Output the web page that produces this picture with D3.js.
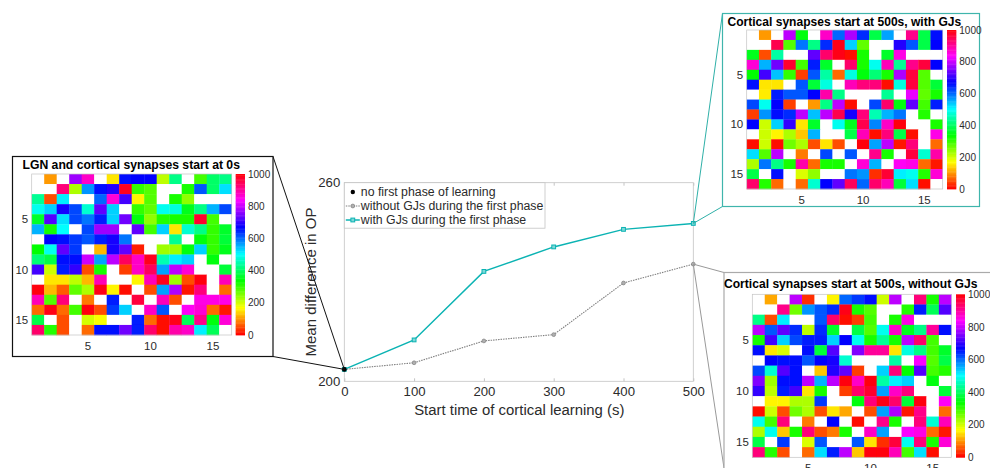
<!DOCTYPE html>
<html>

<head>
    <meta charset="UTF-8">
    <script src="https://d3js.org/d3.v7.min.js"></script>
    <style>
        body {
            margin: 0;
            background-color: white;
        }

        text {
            font-family: 'Liberation Sans', Arial, sans-serif;
            fill: #2b2b2b;
        }
    </style>
</head>

<body>
    <svg id="chart" width="990" height="468">
        <defs>
            <filter id="soft" x="-2%" y="-2%" width="104%" height="104%">
                <feGaussianBlur stdDeviation="0.35"></feGaussianBlur>
            </filter>
        </defs>
    </svg>
    <script>
        // line chart values
        var startTimes = [0, 100, 200, 300, 400, 500];
        var withGJs = [203.6, 212.5, 233.2, 240.6, 245.9, 247.7];
        var withoutGJs = [203.6, 205.6, 212.2, 214.1, 229.7, 235.4];
        var noFirstPhase = [203.6];
        var legendLabels = ["no first phase of learning", "without GJs during the first phase", "with GJs during the first phase"];
        var yTicks = [200, 260];

        var matrixTicks = [5, 10, 15];
        var colorbarTicks = [0, 200, 400, 600, 800, 1000];

        // weight matrices, null is a missing (white) cell
        var _ = null;
        var lgnMatrix = [
            [_, 100, _, 770, 870, _, 150, 660, 670, 670, 210, 420, _, 290, 400, 420],
            [_, _, 920, 220, 570, 660, 690, 980, 300, 280, _, _, 320, 610, 400, 520],
            [430, 50, 510, _, _, 600, 860, 710, 160, 280, _, 320, 240, _, _, _],
            [490, 530, 680, 620, 470, 730, 530, _, 300, 270, 490, 480, 350, 420, 550, 620],
            [360, 720, 520, 620, 590, 650, 530, 740, 340, 240, 310, 320, 320, 970, 290, _],
            [550, 320, 500, _, 620, 770, 770, _, 730, 290, 530, 150, 470, 420, 300, 360],
            [_, 670, 660, 630, 610, 650, 680, 590, _, _, _, 430, _, 340, 300, 370],
            [330, 490, 730, 630, _, 120, 680, 730, 20, _, 230, 230, 340, 530, 300, 350],
            [410, 380, 660, 660, 800, 560, 790, 940, 870, 980, 450, 510, 530, _, 340, _],
            [710, 200, 650, 700, 50, 320, _, 40, 870, 940, 560, 790, 860, _, _, 370],
            [_, 150, 150, 210, 120, 880, _, _, 160, 880, 980, 230, 50, 990, _, 880],
            [990, 120, 60, 270, 220, 985, 160, 10, _, 50, 560, 780, 15, 920, _, 70],
            [880, 280, 920, _, 80, _, 650, _, 960, _, 880, 50, _, 850, 850, 850],
            [70, 985, 70, 290, 990, 50, 630, 530, _, 870, 610, _, 840, 860, 70, 15],
            [380, _, 50, _, 195, 170, _, _, 650, 70, 10, 985, 390, 910, 340, 860],
            [930, 310, 50, _, 70, 660, 660, 740, 650, 930, 10, 890, 870, 510, 390, _]
        ];
        var withGJsMatrix = [
            [_, 100, _, 790, 340, _, 870, 600, 780, 640, 380, 560, _, 910, 380, 660],
            [_, _, 950, 280, 590, 420, 640, 985, 530, 270, _, _, 690, 610, 380, 670],
            [350, 50, 440, _, _, 730, 930, 985, 10, 320, _, 360, 850, _, _, _],
            [860, 550, 740, 970, 290, 650, 360, _, 930, 320, 490, 880, 430, 910, 960, 670],
            [330, 710, 540, 300, 40, 610, 440, 70, 480, 340, 410, 320, 780, 960, 280, _],
            [660, 150, 150, _, 610, 370, 480, _, 880, 920, 920, 10, 480, 960, 280, 370],
            [_, 155, 650, 610, 610, 670, 890, 420, _, _, _, 430, _, 820, 270, 320],
            [620, 490, 670, 40, _, 100, 420, 790, 10, _, 620, 930, 340, 730, 290, 650],
            [40, 570, 660, 640, 790, 540, 790, 950, 680, 920, 450, 550, 590, _, 310, _],
            [670, 200, 530, 700, 150, 360, _, 490, 350, 950, 580, 870, 995, _, _, 320],
            [_, 200, 160, 220, 130, 550, _, _, 380, 880, 10, 920, 380, 10, _, 850],
            [10, 200, 5, 260, 220, 50, 150, 50, _, 995, 560, 790, 15, 920, _, 70],
            [520, 280, 790, _, 80, _, 620, _, 610, _, 910, 320, _, 960, 470, 890],
            [220, 590, 420, 320, 890, 70, 320, 320, _, 860, 550, _, 840, 850, 70, 15],
            [380, _, 660, _, 190, 240, _, _, 590, 570, 30, 965, 510, 490, 310, 860],
            [930, 310, 70, _, 70, 470, 670, 730, 940, 600, 930, 880, 370, 520, 5, _]
        ];
        var withoutGJsMatrix = [
            [_, 110, _, 790, 30, _, 160, 600, 630, 660, 200, 790, _, 920, 320, 790],
            [_, _, 910, 260, 570, 610, 640, 985, 320, 280, _, _, 310, 650, 390, 720],
            [420, 50, 510, _, _, 610, 930, 10, 40, 290, _, 320, 850, _, _, _],
            [790, 610, 730, 640, 210, 640, 360, _, 380, 280, 490, 870, 350, 420, 900, 660],
            [320, 710, 530, 620, 650, 650, 530, 670, 490, 320, 430, 320, 790, 930, 290, _],
            [660, 150, 190, _, 660, 370, 720, _, 750, 900, 900, 150, 480, 420, 290, 360],
            [_, 670, 660, 660, 610, 670, 680, 470, _, _, _, 440, _, 830, 280, 380],
            [620, 470, 720, 660, _, 130, 690, 730, 40, _, 530, 920, 330, 720, 290, 310],
            [750, 230, 660, 660, 790, 550, 790, 995, 870, 990, 440, 510, 530, _, 340, _],
            [700, 210, 650, 710, 150, 320, _, 40, 930, 970, 560, 870, 920, _, _, 370],
            [_, 160, 160, 220, 220, 630, _, _, 340, 920, 985, 930, 370, 990, _, 840],
            [10, 200, 50, 260, 220, 50, 150, 110, _, 50, 560, 780, 15, 910, _, 70],
            [490, 290, 920, _, 80, _, 670, _, 10, _, 910, 320, _, 920, 470, 880],
            [220, 490, 130, 320, 920, 50, 80, 320, _, 870, 560, _, 830, 850, 70, 15],
            [380, _, 630, _, 190, 610, _, _, 610, 150, 30, 960, 490, 920, 320, 860],
            [920, 310, 50, _, 70, 520, 650, 790, 130, 995, 995, 880, 290, 520, 5, _]
        ];

        var svg = d3.select("#chart");

        var teal = "#0bb3b3";
        var lineGrey = "#808080";

        // matlab hsv colormap
        function hsvColor(v) {
            return d3.hsl(v * 360 / 1000, 1, 0.5).formatHex();
        }

        // main line chart
        var x = d3.scaleLinear().domain([0, 500]).range([344.3, 693.3]);
        var y = d3.scaleLinear().domain([200, 260]).range([381.3, 182.7]);

        var plot = svg.append("g");

        // box
        plot.append("rect")
            .attr("x", x(0)).attr("y", y(260))
            .attr("width", x(500) - x(0)).attr("height", y(200) - y(260))
            .attr("fill", "white").attr("stroke", "#c4c4c4").attr("stroke-width", 0.8);

        var xAxis = d3.axisBottom(x).tickValues(startTimes).tickSize(-3).tickPadding(6);
        var xAxisG = plot.append("g").attr("transform", "translate(0," + y(200) + ")").call(xAxis);
        xAxisG.select(".domain").remove();
        xAxisG.selectAll("line").attr("stroke", "#c4c4c4");
        xAxisG.selectAll("text").style("font-size", "13.2px").style("font-family", "'Liberation Sans'").attr("dy", "0.65em");

        var xTop = d3.axisTop(x).tickValues(startTimes).tickSize(-3).tickFormat("");
        var xTopG = plot.append("g").attr("transform", "translate(0," + y(260) + ")").call(xTop);
        xTopG.select(".domain").remove();
        xTopG.selectAll("line").attr("stroke", "#c4c4c4");

        var yAxis = d3.axisLeft(y).tickValues(yTicks).tickSize(0).tickPadding(4);
        var yAxisG = plot.append("g").attr("transform", "translate(" + x(0) + ",0)").call(yAxis);
        yAxisG.select(".domain").remove();
        yAxisG.selectAll("text").style("font-size", "13.2px").style("font-family", "'Liberation Sans'");

        svg.append("text")
            .attr("x", (x(0) + x(500)) / 2 + 0.5).attr("y", 415)
            .attr("text-anchor", "middle").style("font-size", "14.9px")
            .text("Start time of cortical learning (s)");

        svg.append("text")
            .attr("transform", "translate(316,282) rotate(-90)")
            .attr("text-anchor", "middle").style("font-size", "15px")
            .text("Mean difference in OP");

        var line = d3.line()
            .x(function (d, i) { return x(startTimes[i]); })
            .y(function (d) { return y(d); });

        // connectors go under the panels
        var black = [[273, 156.5], [x(0), y(noFirstPhase[0])], [273, 356.5]];
        var tealPts = [[722.5, 13.5], [x(500), y(withGJs[5])], [722.5, 206.5]];
        var greyPts = [[724, 272.5], [x(500), y(withoutGJs[5])], [724, 468]];
        function connector(pts, color) {
            svg.append("path").attr("d", d3.line()(pts)).attr("fill", "none")
                .attr("stroke", color).attr("stroke-width", 1);
        }

        plot.append("path").attr("d", line(withoutGJs)).attr("fill", "none")
            .attr("stroke", lineGrey).attr("stroke-width", 1.1).attr("stroke-dasharray", "1.5,1");
        plot.selectAll(".gdot").data(withoutGJs).enter().append("circle")
            .attr("cx", function (d, i) { return x(startTimes[i]); })
            .attr("cy", function (d) { return y(d); })
            .attr("r", 1.9).attr("fill", "#b0b0b0").attr("stroke", lineGrey).attr("stroke-width", 0.7);

        plot.append("path").attr("d", line(withGJs)).attr("fill", "none")
            .attr("stroke", teal).attr("stroke-width", 1.5);
        plot.selectAll(".tdot").data(withGJs).enter().append("rect")
            .attr("x", function (d, i) { return x(startTimes[i]) - 1.9; })
            .attr("y", function (d) { return y(d) - 1.9; })
            .attr("width", 3.8).attr("height", 3.8)
            .attr("fill", "#7fd8d8").attr("stroke", teal).attr("stroke-width", 1);

        connector(black, "#111");
        connector(tealPts, "#2fb0a8");
        connector(greyPts, "#999");

        plot.append("circle").attr("cx", x(0)).attr("cy", y(noFirstPhase[0])).attr("r", 2.4).attr("fill", "black");

        // legend
        var legend = svg.append("g").attr("transform", "translate(" + x(0) + "," + y(260) + ")");
        legend.append("rect").attr("width", 200.7).attr("height", 45.5)
            .attr("fill", "white").attr("stroke", "#c4c4c4").attr("stroke-width", 0.8);
        legendLabels.forEach(function (label, i) {
            var ly = 9.3 + i * 14;
            legend.append("text").attr("x", 16.5).attr("y", ly + 4.2).style("font-size", "12.3px").text(label);
            if (i > 0) {
                legend.append("line").attr("x1", 1.5).attr("x2", 15.5).attr("y1", ly).attr("y2", ly)
                    .attr("stroke", i == 1 ? lineGrey : teal)
                    .attr("stroke-width", i == 1 ? 1.1 : 1.5)
                    .attr("stroke-dasharray", i == 1 ? "1.5,1" : null);
            }
            if (i == 0) legend.append("circle").attr("cx", 8.5).attr("cy", ly).attr("r", 2.2).attr("fill", "black");
            if (i == 1) legend.append("circle").attr("cx", 8.5).attr("cy", ly).attr("r", 1.9).attr("fill", "#b0b0b0").attr("stroke", lineGrey).attr("stroke-width", 0.7);
            if (i == 2) legend.append("rect").attr("x", 6.6).attr("y", ly - 1.9).attr("width", 3.8).attr("height", 3.8).attr("fill", "#7fd8d8").attr("stroke", teal).attr("stroke-width", 1);
        });

        // one inset: frame, title, heatmap, colorbar
        function drawPanel(o) {
            var g = svg.append("g");
            g.append("rect").attr("x", o.frame[0]).attr("y", o.frame[1])
                .attr("width", o.frame[2] - o.frame[0]).attr("height", o.frame[3] - o.frame[1])
                .attr("fill", "white").attr("stroke", o.stroke).attr("stroke-width", o.strokeWidth);

            g.append("text").attr("x", o.titleX).attr("y", o.titleY)
                .style("font-size", o.titleSize + "px").style("font-weight", "bold").style("fill", "black")
                .text(o.title);

            var cols = d3.range(1, 17);
            var xs = d3.scaleBand().domain(cols).range([o.x0, o.x1]);
            var ys = d3.scaleBand().domain(cols).range([o.y0, o.y1]);

            var cells = g.append("g").attr("filter", "url(#soft)");
            o.matrix.forEach(function (row, r) {
                cells.selectAll(".c" + r).data(row).enter().append("rect")
                    .attr("x", function (d, c) { return xs(c + 1); })
                    .attr("y", ys(r + 1))
                    .attr("width", xs.bandwidth() + 0.3)
                    .attr("height", ys.bandwidth() + 0.3)
                    .attr("fill", function (d) { return d === null ? "white" : hsvColor(d); });
            });

            // frame of the image
            g.append("rect").attr("x", o.x0).attr("y", o.y0).attr("width", o.x1 - o.x0).attr("height", o.y1 - o.y0)
                .attr("fill", "none").attr("stroke", "#c4c4c4").attr("stroke-width", 0.7);

            matrixTicks.forEach(function (t) {
                g.append("text").attr("x", xs(t) + xs.bandwidth() / 2).attr("y", o.y1 + 14.5)
                    .attr("text-anchor", "middle").style("font-size", "11.5px").text(t);
                g.append("text").attr("x", o.x0 - 3.5).attr("y", ys(t) + ys.bandwidth() / 2 + 4)
                    .attr("text-anchor", "end").style("font-size", "11.5px").text(t);
            });

            // colorbar
            var cScale = d3.scaleLinear().domain([0, 1000]).range([o.y1, o.y0]);
            var steps = d3.range(0, 1000, 8);
            g.selectAll(".cb").data(steps).enter().append("rect")
                .attr("x", o.cx0).attr("width", o.cx1 - o.cx0)
                .attr("y", function (d) { return cScale(d + 8); })
                .attr("height", function (d) { return cScale(d) - cScale(d + 8) + 0.4; })
                .attr("fill", function (d) { return hsvColor(d); });
            colorbarTicks.forEach(function (t) {
                g.append("text").attr("x", o.cx1 + 3).attr("y", cScale(t) + 3.6)
                    .style("font-size", "10px").text(t);
            });
        }

        drawPanel({
            title: "LGN and cortical synapses start at 0s", matrix: lgnMatrix,
            frame: [12.5, 156.5, 273, 356.5], stroke: "#111", strokeWidth: 1.2,
            titleX: 22.5, titleY: 169, titleSize: 12.2,
            x0: 31.7, x1: 231.7, y0: 174, y1: 335, cx0: 235.7, cx1: 245
        });
        drawPanel({
            title: "Cortical synapses start at 500s, with GJs", matrix: withGJsMatrix,
            frame: [722.5, 13.5, 979.5, 206.5], stroke: "#3fb5ac", strokeWidth: 1.2,
            titleX: 727.5, titleY: 26, titleSize: 12.05,
            x0: 746.7, x1: 942.7, y0: 30, y1: 189, cx0: 947, cx1: 956.3
        });
        drawPanel({
            // open at the right and bottom, runs off the page
            title: "Cortical synapses start at 500s, without GJs", matrix: withoutGJsMatrix,
            frame: [724, 272.5, 1000, 480], stroke: "#aaa", strokeWidth: 1.2,
            titleX: 724, titleY: 288, titleSize: 12.1,
            x0: 752.3, x1: 951.3, y0: 294.3, y1: 457.3, cx0: 956, cx1: 965
        });
    </script>
</body>

</html>
